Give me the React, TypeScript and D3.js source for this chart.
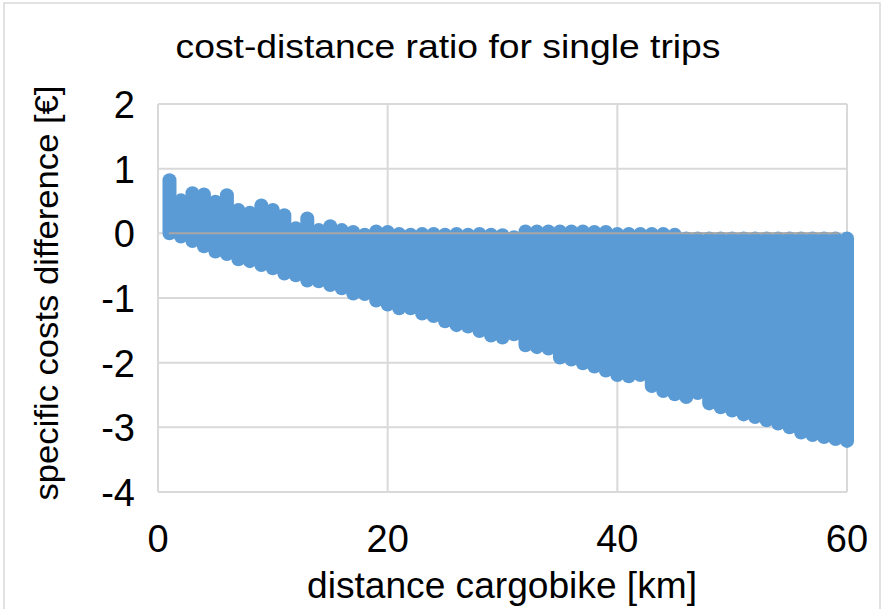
import React, { useRef, useEffect } from "react";
import * as d3 from "d3";

// distance of the cargobike trip in km (one column of points per km)
const distanceKm = [
  1, 2, 3, 4, 5, 6, 7, 8, 9, 10,
  11, 12, 13, 14, 15, 16, 17, 18, 19, 20,
  21, 22, 23, 24, 25, 26, 27, 28, 29, 30,
  31, 32, 33, 34, 35, 36, 37, 38, 39, 40,
  41, 42, 43, 44, 45, 46, 47, 48, 49, 50,
  51, 52, 53, 54, 55, 56, 57, 58, 59, 60,
];

// highest cost difference per distance
const maxDiff = [
  0.82, 0.51, 0.62, 0.6, 0.49, 0.59, 0.36, 0.32, 0.43, 0.36,
  0.28, 0.08, 0.23, 0.05, 0.11, 0.05, 0.02, -0.02, 0.03, 0.02,
  -0.01, -0.02, -0.01, -0.01, -0.02, -0.01, -0.02, -0.01, -0.02, -0.03,
  -0.06, 0.03, 0.03, 0.03, 0.03, 0.03, 0.03, 0.02, 0.02, -0.01,
  -0.01, -0.01, -0.01, -0.01, -0.02, -0.08, -0.08, -0.08, -0.08, -0.08,
  -0.08, -0.08, -0.08, -0.08, -0.08, -0.08, -0.08, -0.08, -0.08, -0.08,
];

// lowest cost difference per distance
const minDiff = [
  0.0, -0.05, -0.12, -0.2, -0.28, -0.32, -0.4, -0.43, -0.49, -0.54,
  -0.62, -0.65, -0.73, -0.74, -0.8, -0.85, -0.93, -0.94, -1.04, -1.1,
  -1.16, -1.16, -1.24, -1.28, -1.36, -1.42, -1.44, -1.51, -1.58, -1.61,
  -1.56, -1.73, -1.76, -1.78, -1.92, -1.95, -2.01, -2.06, -2.12, -2.19,
  -2.21, -2.19, -2.36, -2.44, -2.49, -2.53, -2.47, -2.63, -2.69, -2.74,
  -2.8, -2.84, -2.89, -2.94, -3.0, -3.08, -3.12, -3.15, -3.18, -3.21,
];

const xTicks = [0, 20, 40, 60];
const yTicks = [2, 1, 0, -1, -2, -3, -4];

export default function App() {
  const ref = useRef<SVGSVGElement>(null);

  useEffect(() => {
    const svg = d3.select(ref.current);
    svg.selectAll("*").remove();

    const x = d3.scaleLinear().domain([0, 60]).range([158, 847]);
    const y = d3.scaleLinear().domain([-4, 2]).range([492, 104]);
    const font = "'Liberation Sans', Arial, sans-serif";
    const grid = "#d9d9d9";

    // outer chart border
    svg.append("rect")
      .attr("x", 4).attr("y", 3)
      .attr("width", 876).attr("height", 640)
      .attr("fill", "#fff")
      .attr("stroke", grid)
      .attr("stroke-width", 1.5);

    // gridlines
    svg.selectAll("line.hgrid")
      .data(yTicks)
      .enter()
      .append("line")
      .attr("x1", x(0)).attr("x2", x(60))
      .attr("y1", d => y(d)).attr("y2", d => y(d))
      .attr("stroke", grid).attr("stroke-width", 2);

    svg.selectAll("line.vgrid")
      .data(xTicks)
      .enter()
      .append("line")
      .attr("x1", d => x(d)).attr("x2", d => x(d))
      .attr("y1", y(2)).attr("y2", y(-4))
      .attr("stroke", grid).attr("stroke-width", 2);

    // points, drawn as dense columns of round markers
    const cols = distanceKm.map((d, i) => ({ d, hi: maxDiff[i], lo: minDiff[i] }));
    svg.selectAll("line.col")
      .data(cols)
      .enter()
      .append("line")
      .attr("x1", c => x(c.d)).attr("x2", c => x(c.d))
      .attr("y1", c => y(c.hi)).attr("y2", c => y(c.lo))
      .attr("stroke", "#5b9bd5")
      .attr("stroke-width", 14)
      .attr("stroke-linecap", "round");

    // horizontal axis line at 0
    svg.append("line")
      .attr("x1", x(0.95)).attr("x2", x(59.3))
      .attr("y1", y(0)).attr("y2", y(0))
      .attr("stroke", "#a6a6a6").attr("stroke-width", 2);

    // tick labels
    svg.selectAll("text.yt")
      .data(yTicks)
      .enter()
      .append("text")
      .attr("x", 135)
      .attr("y", d => y(d) + 14)
      .attr("text-anchor", "end")
      .style("font-family", font)
      .style("font-size", "38px")
      .attr("fill", "#000")
      .text(d => d);

    svg.selectAll("text.xt")
      .data(xTicks)
      .enter()
      .append("text")
      .attr("x", d => x(d))
      .attr("y", 552)
      .attr("text-anchor", "middle")
      .style("font-family", font)
      .style("font-size", "38px")
      .attr("fill", "#000")
      .text(d => d);

    // titles
    svg.append("text")
      .attr("x", 448).attr("y", 58)
      .attr("text-anchor", "middle")
      .attr("textLength", 545)
      .attr("lengthAdjust", "spacingAndGlyphs")
      .style("font-family", font)
      .style("font-size", "33px")
      .text("cost-distance ratio for single trips");

    svg.append("text")
      .attr("x", 502).attr("y", 598)
      .attr("text-anchor", "middle")
      .attr("textLength", 390)
      .attr("lengthAdjust", "spacingAndGlyphs")
      .style("font-family", font)
      .style("font-size", "36px")
      .text("distance cargobike [km]");

    svg.append("text")
      .attr("transform", "translate(58,293) rotate(-90)")
      .attr("text-anchor", "middle")
      .attr("textLength", 415)
      .attr("lengthAdjust", "spacingAndGlyphs")
      .style("font-family", font)
      .style("font-size", "33px")
      .text("specific costs difference [€]");
  }, []);

  return (
    <svg
      ref={ref}
      width={885}
      height={609}
      style={{ position: "absolute", left: 0, top: 0, background: "#fff" }}
    />
  );
}
